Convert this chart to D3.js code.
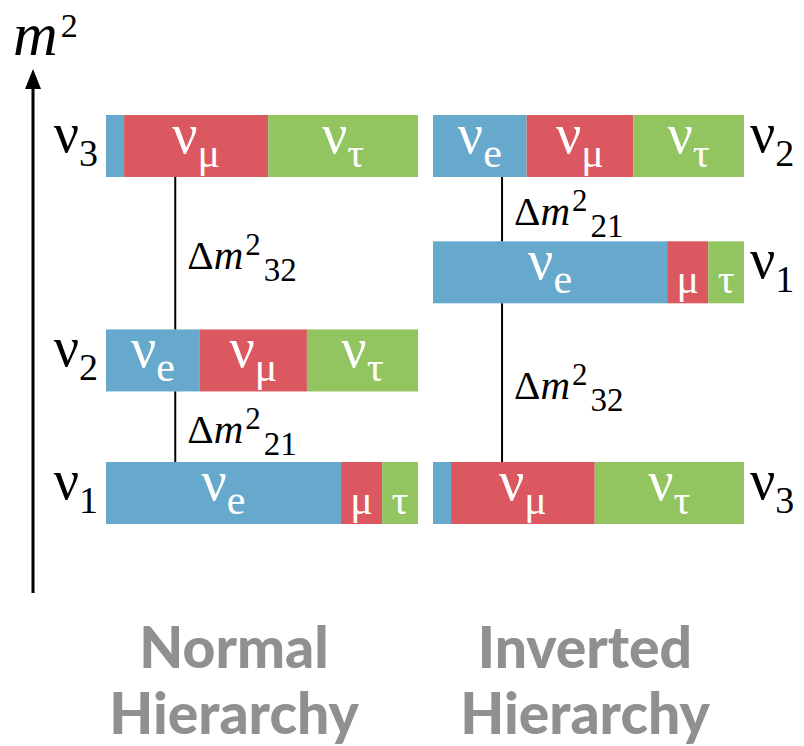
<!DOCTYPE html>
<html>
<head>
<meta charset="utf-8">
<script src="https://cdn.jsdelivr.net/npm/d3@7"></script>
<style>
  html, body { margin: 0; padding: 0; background: #fff; }
  svg { display: block; }
  .serif { font-family: "Liberation Serif", "DejaVu Serif", serif; }
</style>
</head>
<body>
<div id="app"></div>
<script>
// ---------- DATA ----------

// flavour content of each mass state (e, mu, tau)
const flavours = ["e", "μ", "τ"];
const nu1Fractions = [0.753, 0.132, 0.115];
const nu2Fractions = [0.301, 0.343, 0.356];
const nu3Fractions = [0.058, 0.462, 0.480];
const massStates = ["1", "2", "3"];

// relative height of each mass state (nu1, nu2, nu3) on the m^2 axis
const normalLevels = [0, 0.382, 1];
const invertedLevels = [0.636, 1, 0];

// splittings drawn between states: [label, upper state, lower state]
const normalSplittings = [["32", "3", "2"], ["21", "2", "1"]];
const invertedSplittings = [["21", "2", "1"], ["32", "1", "3"]];

const hierarchyNames = ["Normal", "Inverted"];
const hierarchyWord = "Hierarchy";

// ---------- CONSTANTS ----------

const WIDTH = 804;
const HEIGHT = 746;
const BAR_HEIGHT = 62;
const LINE_POS = 0.222;   // position of splitting line along the bar

const colour = d3.scaleOrdinal()
    .domain(flavours)
    .range(["#67a9cc", "#db5860", "#92c560"]);

// ---------- MAIN ----------

function main() {
    const svg = d3.select("#app")
        .append("svg")
        .attr("width", WIDTH)
        .attr("height", HEIGHT);

    const fractions = { "1": nu1Fractions, "2": nu2Fractions, "3": nu3Fractions };

    // y: m^2 level -> centre of the bar
    const scaleY = d3.scaleLinear().domain([0, 1]).range([493, 146]);

    const groups = [
        { name: hierarchyNames[0], levels: normalLevels, splits: normalSplittings,
          x: d3.scaleLinear().domain([0, 1]).range([106, 418]), side: "left" },
        { name: hierarchyNames[1], levels: invertedLevels, splits: invertedSplittings,
          x: d3.scaleLinear().domain([0, 1]).range([433, 744]), side: "right" }
    ];

    // ---------- m^2 axis ----------
    const axisX = 33;
    svg.append("line")
        .attr("x1", axisX).attr("x2", axisX)
        .attr("y1", 593).attr("y2", 84)
        .attr("stroke", "#000")
        .attr("stroke-width", 3);
    svg.append("path")
        .attr("d", d3.line()([[axisX, 69], [axisX - 8, 89], [axisX + 8, 89]]) + "Z")
        .attr("fill", "#000");

    const m2 = svg.append("text")
        .attr("class", "serif")
        .attr("x", 13).attr("y", 55);
    m2.append("tspan").style("font-style", "italic").style("font-size", "62px").text("m");
    m2.append("tspan").attr("dx", 3).attr("dy", -18).style("font-size", "34px").text("2");

    groups.forEach((g) => {
        const [x0, x1] = g.x.range();

        massStates.forEach((s, i) => {
            const yc = scaleY(g.levels[i]);
            const top = yc - BAR_HEIGHT / 2;
            const fr = fractions[s];
            let acc = 0;
            const segs = fr.map((f, k) => {
                const seg = { flavour: flavours[k], start: acc, end: acc + f };
                acc += f;
                return seg;
            });

            const bar = svg.append("g").attr("class", "bar nu" + s);

            bar.selectAll("rect")
                .data(segs)
                .enter()
                .append("rect")
                .attr("x", (d) => g.x(d.start))
                .attr("y", top)
                .attr("width", (d) => g.x(d.end) - g.x(d.start))
                .attr("height", BAR_HEIGHT)
                .attr("fill", (d) => colour(d.flavour));

            // flavour labels inside the segments
            segs.forEach((d) => {
                const w = g.x(d.end) - g.x(d.start);
                if (w < 25) return;
                const t = bar.append("text")
                    .attr("class", "serif")
                    .attr("x", (g.x(d.start) + g.x(d.end)) / 2)
                    .attr("text-anchor", "middle")
                    .attr("fill", "#fff");
                if (w > 60) {
                    t.attr("y", top + 38);
                    t.append("tspan").style("font-size", "56px").text("ν");
                    t.append("tspan").attr("dy", 14).style("font-size", "42px").text(d.flavour);
                } else {
                    t.attr("y", top + 52);
                    t.append("tspan").style("font-size", "42px").text(d.flavour);
                }
            });

            // mass state label beside the bar
            const lab = svg.append("text")
                .attr("class", "serif")
                .attr("y", top + 37)
                .attr("fill", "#000");
            if (g.side === "left") {
                lab.attr("x", x0 - 8).attr("text-anchor", "end");
            } else {
                lab.attr("x", x1 + 6).attr("text-anchor", "start");
            }
            lab.append("tspan").style("font-size", "56px").text("ν");
            lab.append("tspan").attr("dy", 14).style("font-size", "38px").text(s);
        });

        // splitting lines and labels
        const lx = g.x(LINE_POS);
        g.splits.forEach(([label, hi, lo]) => {
            const yTop = scaleY(g.levels[+hi - 1]) + BAR_HEIGHT / 2;
            const yBot = scaleY(g.levels[+lo - 1]) - BAR_HEIGHT / 2;
            svg.append("line")
                .attr("x1", lx).attr("x2", lx)
                .attr("y1", yTop).attr("y2", yBot)
                .attr("stroke", "#000")
                .attr("stroke-width", 2);

            const t = svg.append("text")
                .attr("class", "serif")
                .attr("x", lx + 12)
                .attr("y", (yTop + yBot) / 2 + 16)
                .style("font-size", "41px");
            t.append("tspan").text("Δ");
            t.append("tspan").style("font-style", "italic").text("m");
            t.append("tspan").attr("dx", 2).attr("dy", -14).style("font-size", "31px").text("2");
            t.append("tspan").attr("dx", 3).attr("dy", 26).style("font-size", "33px").text(label);
        });

        // hierarchy name
        const cx = g.side === "left" ? 234 : 585;
        const name = svg.append("text")
            .attr("x", cx)
            .attr("text-anchor", "middle")
            .attr("fill", "#909090")
            .style("font-family", "Lato, 'DejaVu Sans', sans-serif")
            .style("font-weight", 900)
            .style("font-size", "57px");
        name.append("tspan").attr("x", cx).attr("y", 668).text(g.name);
        name.append("tspan").attr("x", cx).attr("y", 734).text(hierarchyWord);
    });
}

main();
</script>
</body>
</html>
